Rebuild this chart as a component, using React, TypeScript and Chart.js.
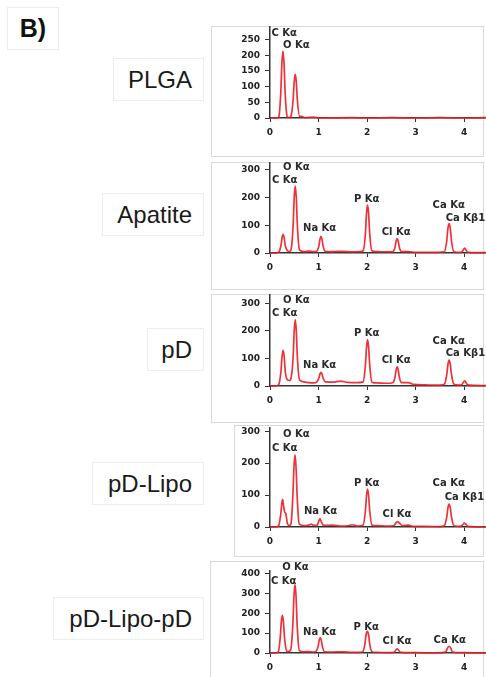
import React, { useEffect, useRef } from "react";
import { Chart, registerables } from "chart.js";

Chart.register(...registerables);

type Pt = [number, number];
type Lbl = [string, number, number];

// ---------- data (energy keV, counts) ----------
const energyTicks = [0, 1, 2, 3, 4];
const energyMax = 4.45;

const plgaSpectrum: Pt[] = [
  [0, 0], [0.15, 0], [0.18, 3], [0.222, 80], [0.245, 175], [0.267, 213], [0.289, 175],
  [0.312, 80], [0.355, 4], [0.4, 1], [0.43, 5], [0.475, 55], [0.5, 118], [0.52, 139],
  [0.54, 118], [0.565, 55], [0.61, 5], [0.65, 5], [0.72, 1], [0.9, 3], [1.0, 0],
  [1.7, 1], [2.0, 0], [2.5, 1], [3.0, 0], [3.5, 1], [4.0, 0], [4.45, 1],
];
const apatiteSpectrum: Pt[] = [
  [0, 0], [0.12, 0], [0.18, 3], [0.225, 26], [0.25, 56], [0.27, 67], [0.29, 56],
  [0.315, 26], [0.36, 8], [0.4, 6], [0.43, 10], [0.475, 95], [0.5, 205], [0.52, 241],
  [0.54, 205], [0.565, 95], [0.61, 10], [0.7, 5], [0.8, 7], [0.9, 5], [0.96, 6],
  [1.005, 24], [1.03, 50], [1.05, 60], [1.07, 50], [1.095, 24], [1.14, 6], [1.3, 5],
  [1.5, 6], [1.7, 4], [1.85, 5], [1.92, 8], [1.965, 68], [1.99, 146], [2.01, 172],
  [2.03, 146], [2.055, 68], [2.1, 8], [2.2, 5], [2.4, 4], [2.53, 5], [2.575, 21],
  [2.6, 44], [2.62, 52], [2.64, 44], [2.665, 21], [2.71, 5], [2.85, 5], [3.0, 2],
  [3.3, 2], [3.59, 4], [3.64, 42], [3.667, 90], [3.69, 106], [3.713, 90], [3.74, 42],
  [3.79, 4], [3.9, 2], [3.95, 4], [3.98, 10], [4.01, 18], [4.04, 10], [4.07, 3],
  [4.2, 1], [4.45, 1],
];
const pdSpectrum: Pt[] = [
  [0, 0], [0.12, 0], [0.18, 5], [0.225, 52], [0.25, 110], [0.27, 130], [0.29, 110],
  [0.315, 52], [0.36, 22], [0.4, 20], [0.435, 30], [0.475, 100], [0.5, 205], [0.52, 241],
  [0.54, 205], [0.565, 100], [0.61, 22], [0.7, 15], [0.8, 12], [0.9, 11], [0.96, 14],
  [1.005, 28], [1.03, 44], [1.05, 50], [1.07, 44], [1.095, 28], [1.14, 15], [1.3, 14],
  [1.45, 18], [1.6, 13], [1.8, 12], [1.92, 15], [1.965, 75], [1.99, 144], [2.01, 169],
  [2.03, 144], [2.055, 75], [2.1, 14], [2.2, 11], [2.4, 10], [2.53, 12], [2.575, 32],
  [2.6, 60], [2.62, 70], [2.64, 60], [2.665, 32], [2.71, 12], [2.85, 12], [2.95, 6],
  [3.2, 4], [3.5, 3], [3.59, 6], [3.64, 40], [3.667, 80], [3.69, 94], [3.713, 80],
  [3.74, 40], [3.79, 6], [3.9, 3], [3.95, 5], [3.98, 12], [4.01, 19], [4.04, 12],
  [4.07, 4], [4.2, 2], [4.45, 1],
];
const pdLipoSpectrum: Pt[] = [
  [0, 0], [0.12, 0], [0.175, 4], [0.22, 38], [0.243, 74], [0.26, 87], [0.28, 66],
  [0.3, 48], [0.325, 42], [0.36, 10], [0.4, 4], [0.435, 12], [0.47, 95], [0.495, 192],
  [0.515, 226], [0.535, 192], [0.56, 95], [0.6, 10], [0.7, 4], [0.8, 6], [0.85, 9],
  [0.9, 5], [0.97, 5], [1.0, 16], [1.03, 26], [1.06, 15], [1.1, 5], [1.3, 6], [1.45, 3],
  [1.6, 4], [1.7, 7], [1.8, 3], [1.92, 6], [1.965, 50], [1.99, 101], [2.01, 119],
  [2.03, 101], [2.055, 50], [2.1, 6], [2.2, 4], [2.4, 3], [2.55, 4], [2.6, 14],
  [2.63, 17], [2.68, 10], [2.73, 4], [2.85, 6], [2.95, 2], [3.2, 2], [3.5, 1], [3.59, 4],
  [3.64, 30], [3.667, 61], [3.69, 72], [3.713, 61], [3.74, 30], [3.79, 4], [3.9, 2],
  [3.96, 5], [4.0, 12], [4.04, 8], [4.08, 2], [4.45, 0],
];
const pdLipoPdSpectrum: Pt[] = [
  [0, 0], [0.12, 0], [0.17, 5], [0.21, 76], [0.235, 162], [0.255, 190], [0.275, 162],
  [0.3, 76], [0.345, 10], [0.39, 8], [0.43, 20], [0.47, 140], [0.495, 293], [0.515, 345],
  [0.535, 293], [0.56, 138], [0.605, 12], [0.7, 6], [0.8, 7], [0.9, 5], [0.95, 8],
  [0.99, 32], [1.015, 66], [1.035, 78], [1.055, 66], [1.08, 32], [1.125, 6], [1.3, 5],
  [1.5, 6], [1.7, 3], [1.83, 3], [1.91, 6], [1.955, 45], [1.98, 93], [2.005, 109],
  [2.03, 93], [2.055, 45], [2.1, 6], [2.2, 3], [2.45, 2], [2.55, 3], [2.59, 14],
  [2.62, 21], [2.65, 14], [2.69, 3], [2.9, 2], [3.2, 1], [3.55, 2], [3.62, 6],
  [3.655, 24], [3.69, 34], [3.725, 24], [3.76, 5], [3.9, 2], [4.2, 1], [4.45, 1],
];

const plgaLabels: Lbl[] = [["C Kα", 0.03, 270], ["O Kα", 0.27, 232]];
const apatiteLabels: Lbl[] = [
  ["O Kα", 0.27, 308], ["C Kα", 0.04, 261], ["Na Kα", 0.68, 89], ["P Kα", 1.73, 193],
  ["Cl Kα", 2.3, 74], ["Ca Kα", 3.35, 171], ["Ca Kβ1", 3.62, 125],
];
const pdLabels: Lbl[] = [
  ["O Kα", 0.27, 312], ["C Kα", 0.04, 264], ["Na Kα", 0.68, 76], ["P Kα", 1.73, 192],
  ["Cl Kα", 2.3, 94], ["Ca Kα", 3.35, 163], ["Ca Kβ1", 3.62, 120],
];
const pdLipoLabels: Lbl[] = [
  ["O Kα", 0.27, 290], ["C Kα", 0.04, 247], ["Na Kα", 0.7, 48], ["P Kα", 1.73, 138],
  ["Cl Kα", 2.32, 41], ["Ca Kα", 3.35, 138], ["Ca Kβ1", 3.6, 94],
];
const pdLipoPdLabels: Lbl[] = [
  ["O Kα", 0.25, 431], ["C Kα", 0.02, 361], ["Na Kα", 0.68, 106], ["P Kα", 1.72, 131],
  ["Cl Kα", 2.32, 57], ["Ca Kα", 3.37, 62],
];

const plgaYTicks = [0, 50, 100, 150, 200, 250];
const apatiteYTicks = [0, 100, 200, 300];
const pdYTicks = [0, 100, 200, 300];
const pdLipoYTicks = [0, 100, 200, 300];
const pdLipoPdYTicks = [0, 100, 200, 300, 400];

const sampleNames = ["PLGA", "Apatite", "pD", "pD-Lipo", "pD-Lipo-pD"];
const yMaxima = [292, 326, 333, 312, 416];

// ---------- layout (page pixels) ----------
type Layout = {
  box: { l: number; t: number; w: number; h: number };
  canvasLeft: number; canvasTop: number; axisX: number; axisTop: number; zeroY: number;
  label: { l: number; t: number; w: number; h: number };
};
const layouts: Layout[] = [
  { box: { l: 211, t: 26, w: 273, h: 131 }, canvasLeft: 212, canvasTop: 16, axisX: 270, axisTop: 26, zeroY: 118, label: { l: 113, t: 58, w: 91, h: 43 } },
  { box: { l: 211, t: 162, w: 273, h: 128 }, canvasLeft: 212, canvasTop: 152, axisX: 270, axisTop: 162, zeroY: 253, label: { l: 102, t: 193, w: 102, h: 43 } },
  { box: { l: 211, t: 294, w: 273, h: 129 }, canvasLeft: 212, canvasTop: 284, axisX: 270, axisTop: 294, zeroY: 386, label: { l: 147, t: 328, w: 57, h: 43 } },
  { box: { l: 234, t: 425, w: 250, h: 132 }, canvasLeft: 236, canvasTop: 417, axisX: 270, axisTop: 427, zeroY: 527, label: { l: 92, t: 462, w: 112, h: 43 } },
  { box: { l: 210, t: 561, w: 274, h: 130 }, canvasLeft: 212, canvasTop: 560, axisX: 270, axisTop: 570, zeroY: 653, label: { l: 53, t: 597, w: 151, h: 43 } },
];

const panels = [
  { spec: plgaSpectrum, labels: plgaLabels, yTicks: plgaYTicks },
  { spec: apatiteSpectrum, labels: apatiteLabels, yTicks: apatiteYTicks },
  { spec: pdSpectrum, labels: pdLabels, yTicks: pdYTicks },
  { spec: pdLipoSpectrum, labels: pdLipoLabels, yTicks: pdLipoYTicks },
  { spec: pdLipoPdSpectrum, labels: pdLipoPdLabels, yTicks: pdLipoPdYTicks },
];

const tickFont = { family: "'DejaVu Sans'", size: 9, weight: "bold" as const };

function Spectrum({ spec, labels, yTicks, yMax, layout }: { spec: Pt[]; labels: Lbl[]; yTicks: number[]; yMax: number; layout: Layout }) {
  const ref = useRef<HTMLCanvasElement>(null);
  const pageRight = 486;
  const canvasW = pageRight - layout.canvasLeft;
  const canvasH = Math.min(677, layout.zeroY + 26) - layout.canvasTop;
  useEffect(() => {
    if (!ref.current) return;
    const peakLabels = {
      id: "peakLabels",
      afterDatasetsDraw(chart: any) {
        const ctx = chart.ctx;
        const xs = chart.scales.x;
        const ys = chart.scales.y;
        ctx.save();
        ctx.font = "bold 10px 'DejaVu Sans'";
        ctx.fillStyle = "#2a2a2a";
        ctx.textAlign = "left";
        ctx.textBaseline = "middle";
        labels.forEach(([t, x, y]) => ctx.fillText(t, xs.getPixelForValue(x), ys.getPixelForValue(y)));
        ctx.restore();
      },
    };
    const chart = new Chart(ref.current, {
      type: "line",
      data: {
        datasets: [
          {
            data: spec.map(([x, y]) => ({ x, y })),
            borderColor: "rgba(236, 28, 36, 0.9)",
            borderWidth: 1.7,
            pointRadius: 0,
            cubicInterpolationMode: "monotone",
            fill: false,
            clip: 3,
          },
        ],
      },
      options: {
        animation: false,
        responsive: false,
        events: [],
        layout: { padding: { top: layout.axisTop - layout.canvasTop, left: 0, right: 0, bottom: 0 } },
        plugins: { legend: { display: false }, tooltip: { enabled: false } },
        scales: {
          x: {
            type: "linear",
            min: 0,
            max: energyMax,
            afterBuildTicks: (s: any) => {
              s.ticks = energyTicks.map((v) => ({ value: v }));
            },
            afterFit: (s: any) => {
              s.height = canvasH - (layout.zeroY - layout.canvasTop);
            },
            grid: { display: true, drawOnChartArea: false, drawTicks: true, tickLength: 4, color: "#333" },
            border: { display: true, color: "#333", width: 1.5 },
            ticks: { font: tickFont, color: "#222", padding: 5, maxRotation: 0, autoSkip: false },
          },
          y: {
            type: "linear",
            min: 0,
            max: yMax,
            afterBuildTicks: (s: any) => {
              s.ticks = yTicks.map((v) => ({ value: v }));
            },
            afterFit: (s: any) => {
              s.width = layout.axisX - layout.canvasLeft;
            },
            grid: { display: true, drawOnChartArea: false, drawTicks: true, tickLength: 5, color: "#333" },
            border: { display: true, color: "#333", width: 1.5 },
            ticks: { font: tickFont, color: "#222", padding: 5, autoSkip: false },
          },
        },
      },
      plugins: [peakLabels],
    } as any);
    return () => chart.destroy();
  }, []);
  return (
    <canvas
      ref={ref}
      width={canvasW}
      height={canvasH}
      style={{ position: "absolute", left: layout.canvasLeft, top: layout.canvasTop, width: canvasW, height: canvasH }}
    />
  );
}

export default function App() {
  return (
    <div style={{ position: "absolute", left: 0, top: 0, width: 486, height: 677, overflow: "hidden", background: "#fff" }}>
      <div
        style={{
          position: "absolute", left: 7, top: 7, width: 52, height: 43, border: "1px solid #ececec",
          boxSizing: "border-box", display: "flex", alignItems: "center", justifyContent: "center",
          font: "bold 25px 'Liberation Sans', Arial, sans-serif", color: "#111",
        }}
      >
        B)
      </div>
      {layouts.map((lay, i) => (
        <React.Fragment key={i}>
          <div
            style={{
              position: "absolute", left: lay.box.l, top: lay.box.t, width: lay.box.w, height: lay.box.h,
              border: "1px solid #d9d9d9", boxSizing: "border-box",
            }}
          />
          <div
            style={{
              position: "absolute", left: lay.label.l, top: lay.label.t, width: lay.label.w, height: lay.label.h,
              border: "1px solid #ededed", boxSizing: "border-box", display: "flex", alignItems: "center",
              justifyContent: "flex-end", paddingRight: 11,
              font: "24px 'Liberation Sans', Arial, sans-serif", color: "#1a1a1a", whiteSpace: "nowrap",
            }}
          >
            {sampleNames[i]}
          </div>
          <Spectrum spec={panels[i].spec} labels={panels[i].labels} yTicks={panels[i].yTicks} yMax={yMaxima[i]} layout={lay} />
        </React.Fragment>
      ))}
    </div>
  );
}
